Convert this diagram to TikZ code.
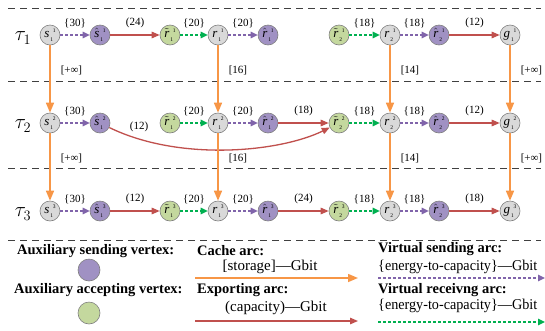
\documentclass[tikz,border=0pt]{standalone}
\usepackage{fontspec}
\setmainfont{Liberation Serif}
\usetikzlibrary{arrows.meta}
\definecolor{vgray}{RGB}{128,128,128}
\definecolor{gfill}{RGB}{217,217,217}
\definecolor{pfill}{RGB}{160,145,195}
\definecolor{grfill}{RGB}{196,216,158}
\definecolor{corange}{RGB}{247,150,70}
\definecolor{cred}{RGB}{192,80,77}
\definecolor{cpurple}{RGB}{128,100,170}
\definecolor{cgreen}{RGB}{0,176,80}
\newcommand\vlab[3]{$#1$\kern1pt\raisebox{-3.8pt}{\fontsize{5.5}{5.5}\selectfont #3}\kern-0.2pt\raisebox{4.8pt}{\fontsize{5.5}{5.5}\selectfont #2}}
\begin{document}
\begin{tikzpicture}[x=1pt,y=-1pt,
 vtx/.style={circle, draw=vgray, line width=0.6pt, minimum size=20pt, inner sep=0pt, font=\fontsize{13}{13}\selectfont},
 plain/.style={vtx, fill=gfill},
 snd/.style={vtx, fill=pfill},
 acc/.style={vtx, fill=grfill},
 cache/.style={draw=corange, line width=1.5pt, -{Triangle[length=10pt,width=8pt]}},
 export/.style={draw=cred, line width=1.3pt, -{Triangle[length=8pt,width=6.5pt]}},
 vsend/.style={draw=cpurple, line width=1.3pt, dash pattern=on 3pt off 2pt, -{Triangle[length=7pt,width=6.5pt]}},
 vrecv/.style={draw=cgreen, line width=1.3pt, dash pattern=on 3pt off 2pt, -{Triangle[length=7pt,width=6.5pt]}},
 lab/.style={font=\fontsize{11}{11}\selectfont, inner sep=0pt},
 elab/.style={lab, midway, yshift=12pt},
 clab/.style={lab, pos=0.37, anchor=west, xshift=10pt},
 sep/.style={draw=black!75, line width=1pt, dash pattern=on 7pt off 5pt},
 legh/.style={font=\fontsize{14.5}{14.5}\selectfont\bfseries, inner sep=0pt, anchor=west},
 legt/.style={font=\fontsize{15}{15}\selectfont, inner sep=0pt},
 taulab/.style={font=\fontsize{21}{21}\selectfont, inner sep=0pt}
]
\useasboundingbox (0,0) rectangle (545,330);

% separators
\draw[sep] (8,8) -- (541,8);
\draw[sep] (8,81) -- (541,81);
\draw[sep] (8,168) -- (541,168);
\draw[sep] (8,240) -- (541,240);

% vertices
\foreach \t/\y in {1/35,2/123,3/211} {
 \node[taulab] (tau-\t) at (23,\y+3) {$\tau_{\t}$};
 \node[plain] (s-\t) at (50,\y) {\vlab{\mathit{s}}{\t}{1}};
 \node[snd] (sh-\t) at (100,\y) {\vlab{\hat{\mathit{s}}}{\t}{1}};
 \node[acc] (rtA-\t) at (170,\y) {\vlab{\tilde{\mathit{r}}}{\t}{1}};
 \node[plain] (rA-\t) at (218,\y) {\vlab{\mathit{r}}{\t}{1}};
 \node[snd] (rhA-\t) at (268,\y) {\vlab{\hat{\mathit{r}}}{\t}{1}};
 \node[acc] (rtB-\t) at (339,\y) {\vlab{\tilde{\mathit{r}}}{\t}{2}};
 \node[plain] (rB-\t) at (390,\y) {\vlab{\mathit{r}}{\t}{2}};
 \node[snd] (rhB-\t) at (439,\y) {\vlab{\hat{\mathit{r}}}{\t}{2}};
 \node[plain] (g-\t) at (510,\y) {\vlab{\mathit{g}}{\t}{1}};
}

% row 1
\draw[vsend] (s-1) -- node[elab]{\{30\}} (sh-1);
\draw[export] (sh-1) -- node[elab]{(24)} (rtA-1);
\draw[vrecv] (rtA-1) -- node[elab]{\{20\}} (rA-1);
\draw[vsend] (rA-1) -- node[elab]{\{20\}} (rhA-1);
\draw[vrecv] (rtB-1) -- node[elab]{\{18\}} (rB-1);
\draw[vsend] (rB-1) -- node[elab]{\{18\}} (rhB-1);
\draw[export] (rhB-1) -- node[elab]{(12)} (g-1);

% row 2
\draw[vsend] (s-2) -- node[elab]{\{30\}} (sh-2);
\draw[export] (sh-2) .. controls (180,162) and (280,152) .. (rtB-2);
\node[lab] (l12) at (139,127) {(12)};
\draw[vrecv] (rtA-2) -- node[elab]{\{20\}} (rA-2);
\draw[vsend] (rA-2) -- node[elab]{\{20\}} (rhA-2);
\draw[export] (rhA-2) -- node[elab]{(18)} (rtB-2);
\draw[vrecv] (rtB-2) -- node[elab]{\{18\}} (rB-2);
\draw[vsend] (rB-2) -- node[elab]{\{18\}} (rhB-2);
\draw[export] (rhB-2) -- node[elab]{(12)} (g-2);

% row 3
\draw[vsend] (s-3) -- node[elab]{\{30\}} (sh-3);
\draw[export] (sh-3) -- node[elab]{(12)} (rtA-3);
\draw[vrecv] (rtA-3) -- node[elab]{\{20\}} (rA-3);
\draw[vsend] (rA-3) -- node[elab]{\{20\}} (rhA-3);
\draw[export] (rhA-3) -- node[elab]{(24)} (rtB-3);
\draw[vrecv] (rtB-3) -- node[elab]{\{18\}} (rB-3);
\draw[vsend] (rB-3) -- node[elab]{\{18\}} (rhB-3);
\draw[export] (rhB-3) -- node[elab]{(18)} (g-3);

% cache arcs
\draw[cache] (s-1) -- node[clab]{[+∞]} (s-2);
\draw[cache] (s-2) -- node[clab]{[+∞]} (s-3);
\draw[cache] (rA-1) -- node[clab]{[16]} (rA-2);
\draw[cache] (rA-2) -- node[clab]{[16]} (rA-3);
\draw[cache] (rB-1) -- node[clab]{[14]} (rB-2);
\draw[cache] (rB-2) -- node[clab]{[14]} (rB-3);
\draw[cache] (g-1) -- node[clab]{[+∞]} (g-2);
\draw[cache] (g-2) -- node[clab]{[+∞]} (g-3);

% legend
\node[legh] (lsv) at (17,251) {Auxiliary sending vertex:};
\node[snd, minimum size=22pt] (lsc) at (89,270) {};
\node[legh] (lav) at (14,290) {Auxiliary accepting vertex:};
\node[acc, minimum size=22pt] (lac) at (89,313) {};

\node[legh] (lca) at (197,251) {Cache arc:};
\node[legt] (lcat) at (270,267) {[storage]—Gbit};
\coordinate (ca1) at (195,278);
\coordinate (ca2) at (358,278);
\draw[cache] (ca1) -- (ca2);
\node[legh] (lex) at (197,290) {Exporting arc:};
\node[legt] (lext) at (276,308) {(capacity)—Gbit};
\coordinate (ex1) at (195,321);
\coordinate (ex2) at (358,321);
\draw[export] (ex1) -- (ex2);

\node[legh] (lvs) at (378,249) {Virtual sending arc:};
\node[legt, anchor=west] (lvst) at (378,267) {\resizebox{159pt}{\height}{\{energy-to-capacity\}—Gbit}};
\coordinate (vs1) at (378,278);
\coordinate (vs2) at (545,278);
\draw[vsend] (vs1) -- (vs2);
\node[legh] (lvr) at (378,290) {Virtual receivng arc:};
\node[legt, anchor=west] (lvrt) at (378,306) {\resizebox{159pt}{\height}{\{energy-to-capacity\}—Gbit}};
\coordinate (vr1) at (378,322);
\coordinate (vr2) at (545,322);
\draw[vrecv] (vr1) -- (vr2);
\end{tikzpicture}
\end{document}
